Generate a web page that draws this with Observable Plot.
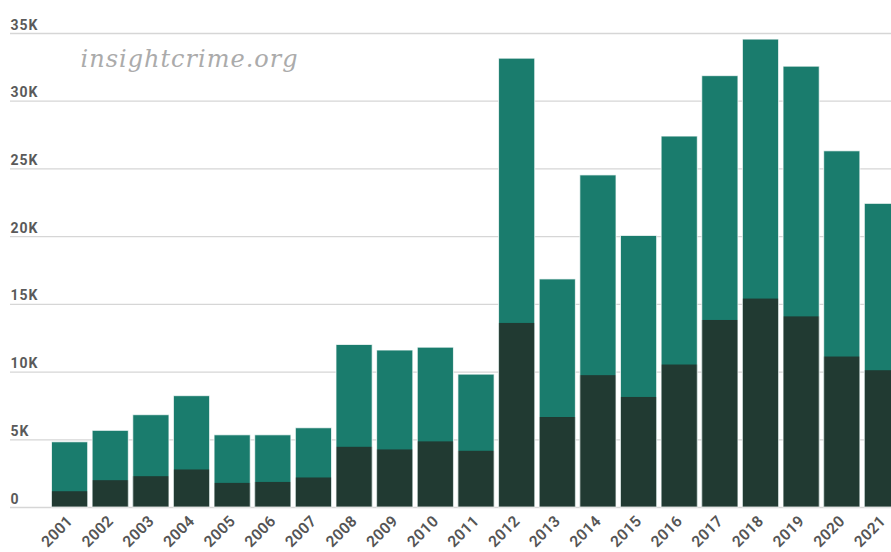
<!DOCTYPE html>
<html>
<head>
<meta charset="utf-8">
<script src="https://cdn.jsdelivr.net/npm/d3@7"></script>
<script src="https://cdn.jsdelivr.net/npm/@observablehq/plot@0.6"></script>
<style>
  html, body { margin: 0; padding: 0; background: #fff; overflow: hidden; }
  #chart svg { display: block; }
</style>
</head>
<body>
<div id="chart"></div>
<script>
const years = ["2001","2002","2003","2004","2005","2006","2007","2008","2009","2010","2011","2012","2013","2014","2015","2016","2017","2018","2019","2020","2021"];
const totalValues = [4815, 5660, 6815, 8220, 5330, 5330, 5850, 12000, 11590, 11800, 9810, 33140, 16840, 24520, 20050, 27390, 31850, 34550, 32550, 26300, 22420];
const darkValues = [1165, 1980, 2275, 2770, 1780, 1850, 2180, 4445, 4250, 4845, 4150, 13590, 6645, 9735, 8125, 10520, 13810, 15390, 14075, 11110, 10100];
const yTicks = [0, 5000, 10000, 15000, 20000, 25000, 30000, 35000];
const watermark = "insightcrime.org";

const data = years.map((year, i) => ({year, total: totalValues[i], dark: darkValues[i]}));

const chart = Plot.plot({
  width: 891,
  height: 552,
  marginTop: 33,
  marginBottom: 45,
  marginLeft: 10,
  marginRight: 0,
  style: {fontFamily: "Roboto, sans-serif", background: "#fff", overflow: "visible"},
  x: {domain: years, range: [51.5, 900.5], paddingInner: 0.11, paddingOuter: 0, round: false, label: null},
  y: {domain: [0, 35000], label: null},
  marks: [
    Plot.gridY(yTicks, {stroke: "#d6d6d6", strokeOpacity: 1, strokeWidth: 1.3}),
    Plot.axisY(yTicks, {
      anchor: "left", tickSize: 0, tickPadding: 0, textAnchor: "start",
      lineAnchor: "bottom", dy: -4, label: null,
      tickFormat: d => d === 0 ? "0" : (d / 1000) + "K",
      fontSize: 14, fontWeight: "bold", fill: "#5a5a5a"
    }),
    Plot.barY(data, {x: "year", y1: 0, y2: "total", fill: "#1a7c6d"}),
    Plot.barY(data, {x: "year", y1: 0, y2: "dark", fill: "#213a32"}),
    Plot.barY(data, {x: "year", y1: 0, y2: "total", fill: "none", stroke: "#ffffff", strokeOpacity: 0.75, strokeWidth: 1}),
    Plot.axisX({
      tickSize: 0, tickPadding: 11, tickRotate: -45, label: null,
      fontSize: 15.5, fontWeight: "600", fill: "#555"
    }),
    Plot.text([watermark], {
      frameAnchor: "top-left", dx: 70, dy: 26, text: d => d,
      textAnchor: "start", lineAnchor: "middle",
      fontFamily: "'DejaVu Serif', serif", fontStyle: "italic",
      fontSize: 24, fill: "#ababab", fillOpacity: 1
    })
  ]
});
d3.select(chart).selectAll("[aria-label='y-axis tick label'] text").style("letter-spacing", "1px");
d3.select(chart).selectAll("[aria-label='x-axis tick label'] text").style("letter-spacing", "0.3px");
d3.select(chart).selectAll("[aria-label='text'] text").style("letter-spacing", "1px");
document.getElementById("chart").appendChild(chart);
</script>
</body>
</html>
